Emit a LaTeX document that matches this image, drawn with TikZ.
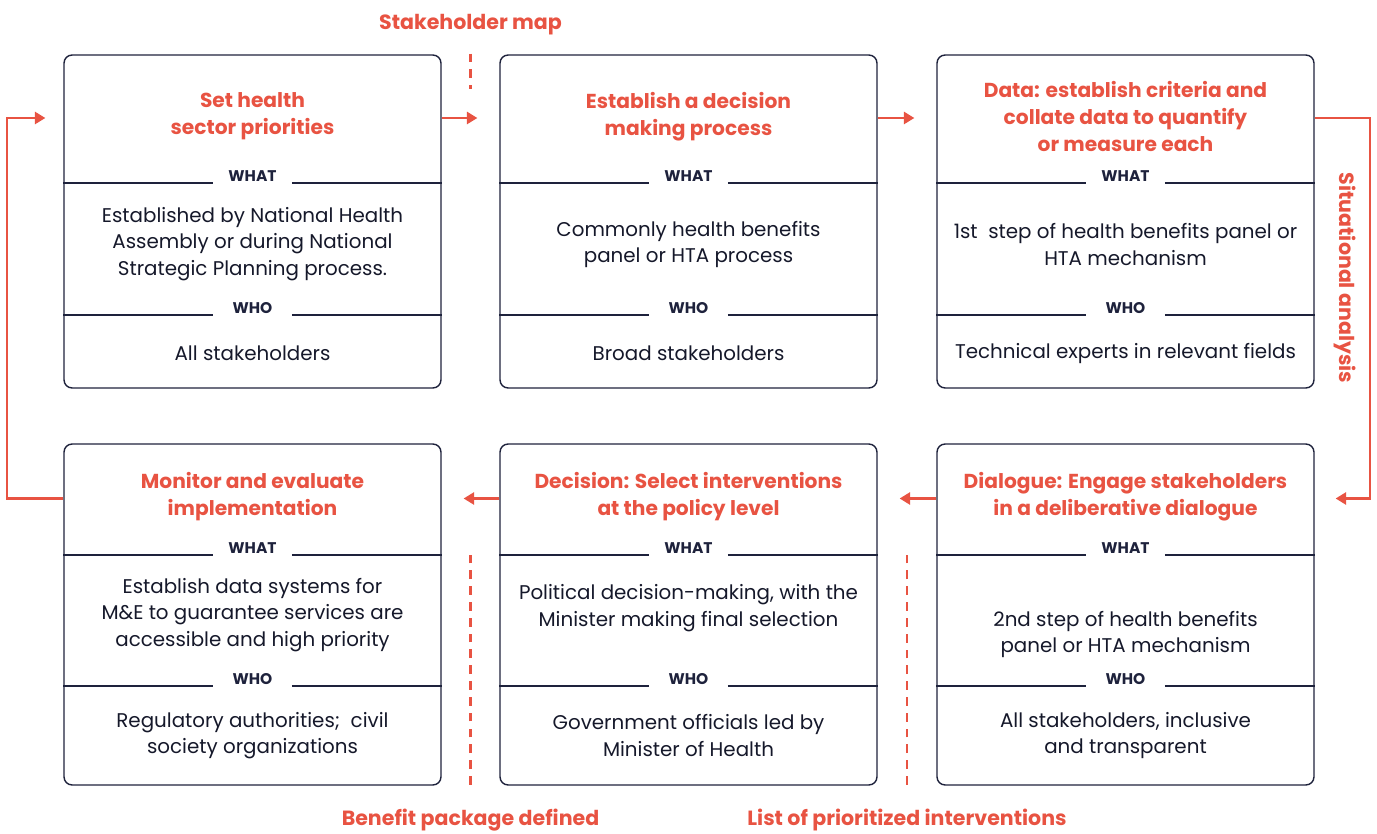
\documentclass[tikz,border=0pt]{standalone}
\usepackage{fontspec}
\setmainfont{Poppins}
\usetikzlibrary{arrows.meta, positioning, calc}
\definecolor{hred}{RGB}{232, 83, 66}
\definecolor{navy}{RGB}{30, 34, 60}

\begin{document}
\begin{tikzpicture}[
  x=0.02cm, y=-0.02cm,
  card/.style={draw=navy, line width=0.8pt, rounded corners=0.16cm, minimum width=7.54cm, inner sep=0pt},
  ttl/.style={text=hred, font=\bfseries\fontsize{11.5}{15.2}\selectfont, align=center, yshift=-0.06cm},
  tag/.style={text=navy, font=\bfseries\fontsize{8.8}{10}\selectfont, minimum width=1.56cm, minimum height=0.26cm, inner sep=0pt},
  body/.style={text=navy!70!black, font=\fontsize{11.3}{15}\selectfont, align=center, yshift=-0.06cm},
  rule/.style={draw=navy, line width=0.8pt},
  flow/.style={draw=hred, line width=1.2pt, -{Triangle[length=6pt, width=7pt]}},
  milestone/.style={draw=hred, line width=1.2pt, dash pattern=on 5pt off 4pt},
  mlabel/.style={text=hred, font=\bfseries\fontsize{11.7}{13}\selectfont}
]
  \useasboundingbox (0,0) rectangle (1377,834);

  % top row
  \node[card, minimum height=6.66cm] (setprio) at (252.5,221.5) {};
  \node[card, minimum height=6.66cm] (decproc) at (688.5,221.5) {};
  \node[card, minimum height=6.66cm] (datacrit) at (1125.5,221.5) {};

  \node[ttl] (setprio-ttl) at (252.5,113.5) {Set health\\sector priorities};
  \node[ttl] (decproc-ttl) at (688.5,113.5) {Establish a decision\\making process};
  \node[ttl] (datacrit-ttl) at (1125.5,113.5) {Data: establish criteria and\\collate data to quantify\\or measure each};

  \node[body] (setprio-txt) at (252.5,241) {Established by National Health\\Assembly or during National\\Strategic Planning process.};
  \node[body] (decproc-txt) at (688.5,241.5) {Commonly health benefits\\panel or HTA process};
  \node[body] (datacrit-txt) at (1125.5,241.5) {1st\ \ step of health benefits panel or\\HTA mechanism};

  \node[body] (setprio-by) at (252.5,350) {All stakeholders};
  \node[body] (decproc-by) at (688.5,350) {Broad stakeholders};
  \node[body] (datacrit-by) at (1125.5,350) {Technical experts in relevant fields};

  % bottom row
  \node[card, minimum height=6.82cm] (monitor) at (252.5,614.5) {};
  \node[card, minimum height=6.82cm] (decision) at (688.5,614.5) {};
  \node[card, minimum height=6.82cm] (dialogue) at (1125.5,614.5) {};

  \node[ttl] (monitor-ttl) at (252.5,493.5) {Monitor and evaluate\\implementation};
  \node[ttl] (decision-ttl) at (688.5,493.5) {Decision: Select interventions\\at the policy level};
  \node[ttl] (dialogue-ttl) at (1125.5,493.5) {Dialogue: Engage stakeholders\\in a deliberative dialogue};

  \node[body] (monitor-txt) at (252.5,612) {Establish data systems for\\M\&E to guarantee services are\\accessible and high priority};
  \node[body] (decision-txt) at (688.5,605) {Political decision-making, with the\\Minister making final selection};
  \node[body] (dialogue-txt) at (1125.5,631.5) {2nd step of health benefits\\panel or HTA mechanism};

  \node[body] (monitor-by) at (252.5,732.5) {Regulatory authorities;\ \ civil\\society organizations};
  \node[body] (decision-by) at (688.5,732.5) {Government officials led by\\Minister of Health};
  \node[body] (dialogue-by) at (1125.5,732.5) {All stakeholders, inclusive\\and transparent};

  % WHAT / WHO dividers
  \foreach \b/\x/\yw/\yh in {setprio/252.5/176/308, decproc/688.5/176/308, datacrit/1125.5/176/308,
                             monitor/252.5/548/679, decision/688.5/548/679, dialogue/1125.5/548/679} {
    \node[tag] (\b-what) at (\x,\yw) {WHAT};
    \node[tag] (\b-who) at (\x,\yh) {WHO};
    \foreach \t in {what,who}
      \draw[rule] (\b.west |- \b-\t.south) -- (\b-\t.south west)
                  (\b-\t.south east) -- (\b.east |- \b-\t.south);
  }

  % flow between steps
  \draw[flow, shorten >=0.44cm] ([yshift=-0.03cm]setprio.east |- setprio-ttl) -- ([yshift=-0.03cm]decproc.west |- setprio-ttl);
  \draw[flow, shorten >=0.44cm] ([yshift=-0.03cm]decproc.east |- decproc-ttl) -- ([yshift=-0.03cm]datacrit.west |- decproc-ttl);
  \draw[flow] ([yshift=-0.03cm]datacrit.east |- datacrit-ttl) -- ++(55,0) |- ([xshift=0.42cm, yshift=-0.04cm]dialogue.east |- dialogue-ttl);
  \draw[flow, shorten >=0.44cm] ([yshift=-0.04cm]dialogue.west |- dialogue-ttl) -- ([yshift=-0.04cm]decision.east |- dialogue-ttl);
  \draw[flow, shorten >=0.44cm] ([yshift=-0.04cm]decision.west |- decision-ttl) -- ([yshift=-0.04cm]monitor.east |- decision-ttl);
  \draw[flow] ([yshift=-0.04cm]monitor.west |- monitor-ttl) -- ++(-56,0) |- ([xshift=-0.36cm, yshift=-0.03cm]setprio.west |- setprio-ttl);

  \node[mlabel, rotate=-90] (situ) at (1345,278) {Situational analysis};

  % milestones
  \node[mlabel] (stake) at (470.5,25) {Stakeholder map};
  \draw[milestone] ([yshift=-0.24cm]stake.south) -- ++(0,35);

  \node[mlabel] (benefit) at (470.5,820) {Benefit package defined};
  \node[mlabel] (prio) at (907,820) {List of prioritized interventions};
  \draw[milestone] ([yshift=0.36cm]benefit.north) -- (benefit.north |- decision-what.south);
  \draw[milestone] ([yshift=0.36cm]prio.north) -- (prio.north |- decision-what.south);
\end{tikzpicture}
\end{document}
